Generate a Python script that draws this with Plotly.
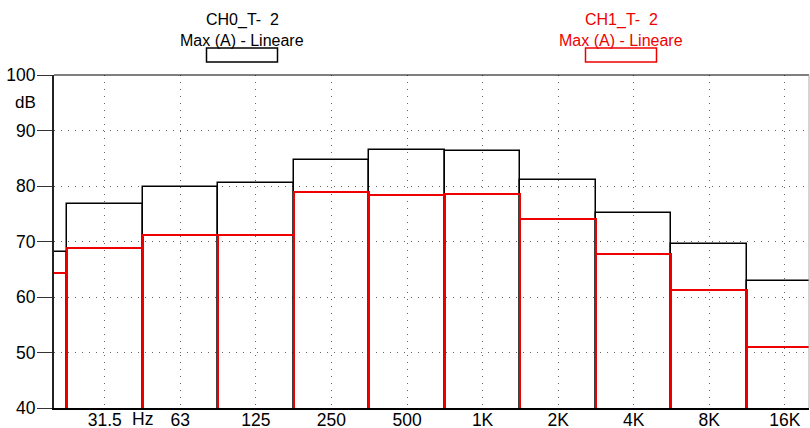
import plotly.graph_objects as go

# Band labels (index -1 is the partially visible 25 Hz band)
band_labels = ["31.5", "63", "125", "250", "500", "1K", "2K", "4K", "8K", "16K"]
band_index = [-1, 0, 1, 2, 3, 4, 5, 6, 7, 8, 9]

ch0_values = [68.1, 76.7, 79.8, 80.6, 84.6, 86.5, 86.3, 81.0, 75.1, 69.6, 62.8]
ch1_values = [64.3, 68.8, 71.1, 71.2, 79.0, 78.3, 78.6, 74.0, 67.7, 61.3, 51.0]

y_ticks = [40, 50, 60, 70, 80, 90, 100]

FONT = "Liberation Sans, Arial, sans-serif"

fig = go.Figure()
fig.add_trace(go.Bar(
    x=band_index, y=ch0_values, width=1,
    marker=dict(color="rgba(0,0,0,0)", line=dict(color="black", width=1.5)),
    hoverinfo="x+y", showlegend=False,
))
fig.add_trace(go.Bar(
    x=band_index, y=ch1_values, width=1,
    marker=dict(color="rgba(0,0,0,0)", line=dict(color="#ee0000", width=2)),
    hoverinfo="x+y", showlegend=False,
))

fig.update_layout(
    width=810, height=428,
    margin=dict(l=54, r=1, t=75, b=20, autoexpand=False),
    paper_bgcolor="white", plot_bgcolor="white",
    barmode="overlay", bargap=0,
    font=dict(family=FONT, size=17, color="black"),
    xaxis=dict(
        range=[-0.672, 9.32],
        tickmode="array", tickvals=list(range(len(band_labels))), ticktext=band_labels,
        ticks="", showgrid=True, griddash="1px,6px", gridcolor="#666666", gridwidth=1,
        showline=True, linecolor="black", linewidth=2,
        zeroline=False, automargin=False,
        tickfont=dict(size=17.5, family=FONT, color="black"),
        ticklabelstandoff=-5,
    ),
    yaxis=dict(
        range=[40, 100],
        tickmode="array", tickvals=y_ticks,
        ticks="outside", ticklen=15, tickwidth=1, tickcolor="#333333",
        showgrid=True, griddash="1px,6px", gridcolor="#666666", gridwidth=1,
        showline=True, linecolor="#222222", linewidth=2,
        zeroline=False, automargin=False,
        tickfont=dict(size=17.5, family=FONT, color="black"),
        ticklabelstandoff=-2,
    ),
)

# Top border (black) and right border (light grey)
fig.add_shape(type="line", xref="paper", yref="paper", x0=0, x1=1, y0=1, y1=1,
              line=dict(color="black", width=1.2))
fig.add_shape(type="line", xref="paper", yref="paper", x0=1, x1=1, y0=0, y1=1,
              line=dict(color="#aaaaaa", width=1))

# "dB" unit label and "Hz" label
fig.add_annotation(text="dB", xref="paper", yref="y", x=-0.038, y=95, xanchor="center",
                   yanchor="middle", showarrow=False, font=dict(size=17, family=FONT))
fig.add_annotation(text="Hz", xref="x", yref="paper", x=0.5, y=-0.033, xanchor="center",
                   yanchor="middle", showarrow=False, font=dict(size=17.5, family=FONT))

# Legend-like headers
legend_items = [
    ("CH0_T-\u00a0 2", "Max (A) - Lineare", "black", 242),
    ("CH1_T-\u00a0 2", "Max (A) - Lineare", "#ee0000", 621),
]
for name, sub, col, cx in legend_items:
    fx = (cx - 54) / 755
    fig.add_annotation(text=name, xref="paper", yref="paper", x=fx, y=1 + (75 - 20) / 333,
                       xanchor="center", yanchor="middle", showarrow=False,
                       font=dict(size=16, family=FONT, color=col))
    fig.add_annotation(text=sub, xref="paper", yref="paper", x=fx, y=1 + (75 - 40) / 333,
                       xanchor="center", yanchor="middle", showarrow=False,
                       font=dict(size=16, family=FONT, color=col))
    x0 = (cx - 35.5 - 54) / 755
    x1 = (cx + 35.5 - 54) / 755
    fig.add_shape(type="rect", xref="paper", yref="paper", x0=x0, x1=x1,
                  y0=1 + (75 - 62) / 333, y1=1 + (75 - 48) / 333,
                  line=dict(color=col, width=1.5), fillcolor="rgba(0,0,0,0)")

fig.write_html(
    "out.html",
    config={"displayModeBar": False},
    post_script="document.body.style.margin='0';document.body.style.overflow='hidden';",
)
